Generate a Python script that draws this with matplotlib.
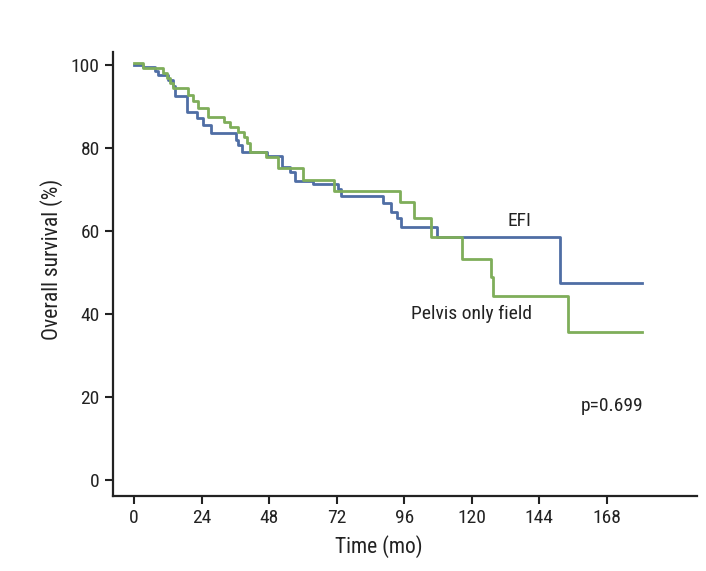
import matplotlib
matplotlib.use("Agg")
import matplotlib.pyplot as plt

plt.rcParams['font.family'] = ['Roboto Condensed', 'DejaVu Sans']

# EFI 군 (step 시작 시점, 생존율)
efi_t = [0, 3.3, 7.5, 8.6, 12.2, 14.0, 14.6, 18.7, 22.3, 24.6, 27.4, 36.2, 37.1, 38.3,
         47.1, 52.5, 55.4, 57.2, 63.7, 72.4, 73.5, 88.3, 91.3, 93.3, 94.8, 107.7, 151.3, 180.5]
efi_s = [100, 99.4, 98.4, 97.6, 96.4, 94.8, 92.4, 88.7, 87.2, 85.5, 83.5, 81.8, 80.6, 79.1,
         78.1, 75.5, 74.3, 72.0, 71.3, 70.1, 68.4, 66.7, 64.5, 63.1, 61.0, 58.6, 47.4, 47.4]

# Pelvis only field 군
pel_t = [0, 3.3, 10.4, 11.6, 12.8, 14.0, 19.3, 21.1, 22.8, 26.4, 32.0, 34.2, 37.1, 39.2,
         40.0, 41.2, 47.0, 51.0, 60.1, 71.2, 94.5, 99.6, 105.7, 116.6, 126.7, 127.6, 154.3, 180.5]
pel_s = [100.4, 99.2, 98.0, 96.8, 95.6, 94.4, 92.8, 91.2, 89.6, 87.5, 86.2, 85.0, 83.8, 82.5,
         81.1, 78.9, 77.8, 75.1, 72.3, 69.7, 66.9, 63.1, 58.6, 53.2, 48.8, 44.4, 35.6, 35.6]

xticks = [0, 24, 48, 72, 96, 120, 144, 168]
yticks = [0, 20, 40, 60, 80, 100]

fig = plt.figure(figsize=(7.06, 5.71), dpi=100)
ax = fig.add_axes([0.160, 0.131, 0.827, 0.778])

ax.step(efi_t, efi_s, where='post', color='#4f6ea5', lw=2.0)
ax.step(pel_t, pel_s, where='post', color='#7fae5a', lw=2.0)

ax.set_xlim(-7.5, 200)
ax.set_ylim(-3.9, 103.1)
ax.set_xticks(xticks)
ax.set_yticks(yticks)
ax.tick_params(labelsize=14, width=1.5, length=6, colors='#222222')
for side in ['top', 'right']:
    ax.spines[side].set_visible(False)
for side in ['left', 'bottom']:
    ax.spines[side].set_linewidth(1.6)
    ax.spines[side].set_color('#222222')

ax.set_xlabel("Time (mo)", fontsize=15.5, color='#222222')
ax.set_ylabel("Overall survival (%)", fontsize=15.5, color='#222222')
ax.xaxis.set_label_coords(0.455, -0.088)
ax.yaxis.set_label_coords(-0.086, 0.534)

ax.text(137, 62.5, "EFI", fontsize=14, color='#222222', ha='center', va='center')
ax.text(120, 40, "Pelvis only field", fontsize=14, color='#222222', ha='center', va='center')
ax.text(170, 17.8, "p=0.699", fontsize=14, color='#222222', ha='center', va='center')

plt.savefig("out.png", dpi=100)
